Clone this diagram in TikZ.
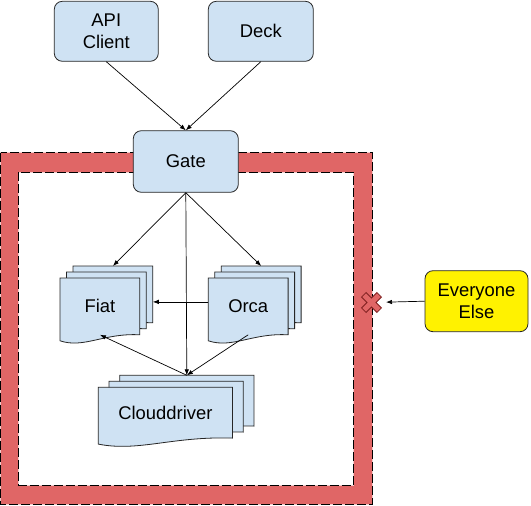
\documentclass[tikz,border=0pt]{standalone}
\usepackage{fontspec}
\setmainfont{Liberation Sans}
\usetikzlibrary{
  arrows.meta
}
\definecolor{boxblue}{HTML}{CFE2F3}
\definecolor{wallred}{HTML}{E06666}
\definecolor{wallgap}{HTML}{F4CCCC}
\definecolor{denyedge}{HTML}{7F2020}

\newdimen\pageL \newdimen\pageR \newdimen\pageT \newdimen\pageB \newdimen\pageW
\makeatletter
\pgfdeclareshape{docpage}{
  \inheritsavedanchors[from=rectangle]
  \inheritanchorborder[from=rectangle]
  \inheritanchor[from=rectangle]{center}
  \inheritanchor[from=rectangle]{north}
  \inheritanchor[from=rectangle]{south}
  \inheritanchor[from=rectangle]{east}
  \inheritanchor[from=rectangle]{west}
  \inheritanchor[from=rectangle]{north east}
  \inheritanchor[from=rectangle]{north west}
  \inheritanchor[from=rectangle]{south east}
  \inheritanchor[from=rectangle]{south west}
  \backgroundpath{
    \southwest \pageL=\pgf@x \pageB=\pgf@y
    \northeast \pageR=\pgf@x \pageT=\pgf@y
    \pageW=\pageR \advance\pageW by-\pageL
    \pgfpathmoveto{\pgfqpoint{\pageL}{\pageT}}
    \pgfpathlineto{\pgfqpoint{\pageR}{\pageT}}
    \pgfpathlineto{\pgfqpoint{\pageR}{\pageB}}
    \pgfpathcurveto
      {\pgfqpoint{\dimexpr\pageL+\pageW*55/100\relax}{\dimexpr\pageB+2pt\relax}}
      {\pgfqpoint{\dimexpr\pageL+\pageW*30/100\relax}{\dimexpr\pageB-14pt\relax}}
      {\pgfqpoint{\pageL}{\dimexpr\pageB-6pt\relax}}
    \pgfpathclose
  }
}
\makeatother

\begin{document}
\begin{tikzpicture}[
  x=1pt, y=-1pt,
  >={Latex[length=6pt,width=4.5pt]},
  every node/.style = {font=\fontsize{18.4}{21.5}\selectfont, text=black},
  service/.style = {shape=rectangle, rounded corners=8pt,
    draw=black!85, line width=0.8pt, fill=boxblue, align=center,
    inner sep=0pt, minimum width=104pt, minimum height=60pt},
  pagebox/.style = {shape=docpage, draw=black!85, line width=0.8pt,
    fill=boxblue, inner sep=0pt, anchor=north west},
  wall/.style = {draw=wallgap, line width=0.9pt,
    postaction={draw=black, dash pattern=on 9pt off 3pt}},
  link/.style = {->, draw=black, line width=0.7pt},
  denymark/.style = {fill=wallred, draw=denyedge, line width=0.8pt}]
  \useasboundingbox (0,0) rectangle (531,506);

  % the wall round the backend
  \path[wall, fill=wallred] (0.5,152.5) rectangle (372,504);
  \path[wall, fill=white] (18.5,172) rectangle (353,485);

  % clients and gate
  \node[service] (api) at (106.3,31.3) {API\\Client};
  \node[service, minimum width=105pt] (deck) at (260.8,31.3) {Deck};
  \node[service, minimum width=105pt, minimum height=61.6pt] (gate) at (185.8,161.5) {Gate};
  \node[service, fill=yellow, minimum width=103pt, minimum height=61pt] (everyone) at (476.5,301.2) {Everyone\\Else};

  % stacked services
  \node[pagebox, minimum width=79pt, minimum height=56pt] (fiatc) at (73,266) {};
  \node[pagebox, minimum width=79pt, minimum height=56pt] (fiatb) at (66.5,272) {};
  \node[pagebox, minimum width=79pt, minimum height=56pt] (fiat) at (60,278) {Fiat};
  \node[pagebox, minimum width=79pt, minimum height=56pt] (orcac) at (221.3,266) {};
  \node[pagebox, minimum width=79pt, minimum height=56pt] (orcab) at (214.8,272) {};
  \node[pagebox, minimum width=79pt, minimum height=56pt] (orca) at (208.3,278) {Orca};
  \node[pagebox, minimum width=133.4pt, minimum height=50pt] (cloudc) at (119.7,375.3) {};
  \node[pagebox, minimum width=133.4pt, minimum height=50pt] (cloudb) at (109,381.3) {};
  \node[pagebox, minimum width=133.4pt, minimum height=50pt] (cloud) at (98.3,387.3) {Clouddriver};

  % blocked way in
  \coordinate (deny) at (371.5,302.5);
  \draw[denymark, shift={(deny)}, rotate=45]
    (-3.2,-10.9) -- (3.2,-10.9) -- (3.2,-3.2) -- (10.9,-3.2) -- (10.9,3.2)
    -- (3.2,3.2) -- (3.2,10.9) -- (-3.2,10.9) -- (-3.2,3.2) -- (-10.9,3.2)
    -- (-10.9,-3.2) -- (-3.2,-3.2) -- cycle;

  \draw[link] (api.south) -- (gate.north);
  \draw[link] (deck.south) -- (gate.north);
  \draw[link] (gate.south) -- (fiatc.north);
  \draw[link] (gate.south) -- (orcac.north);
  \draw[link] (gate.south) -- (cloudc.north);
  \draw[link] ([yshift=4.5pt]orca.west) -- ([yshift=4.5pt]orca.west -| fiatc.east);
  \draw[link] (cloudc.north) -- (fiat.south);
  \draw[link] (orca.south) -- (cloudc.north);
  \draw[link, shorten >=14.5pt] (everyone.west) -- (deny);
\end{tikzpicture}
\end{document}
